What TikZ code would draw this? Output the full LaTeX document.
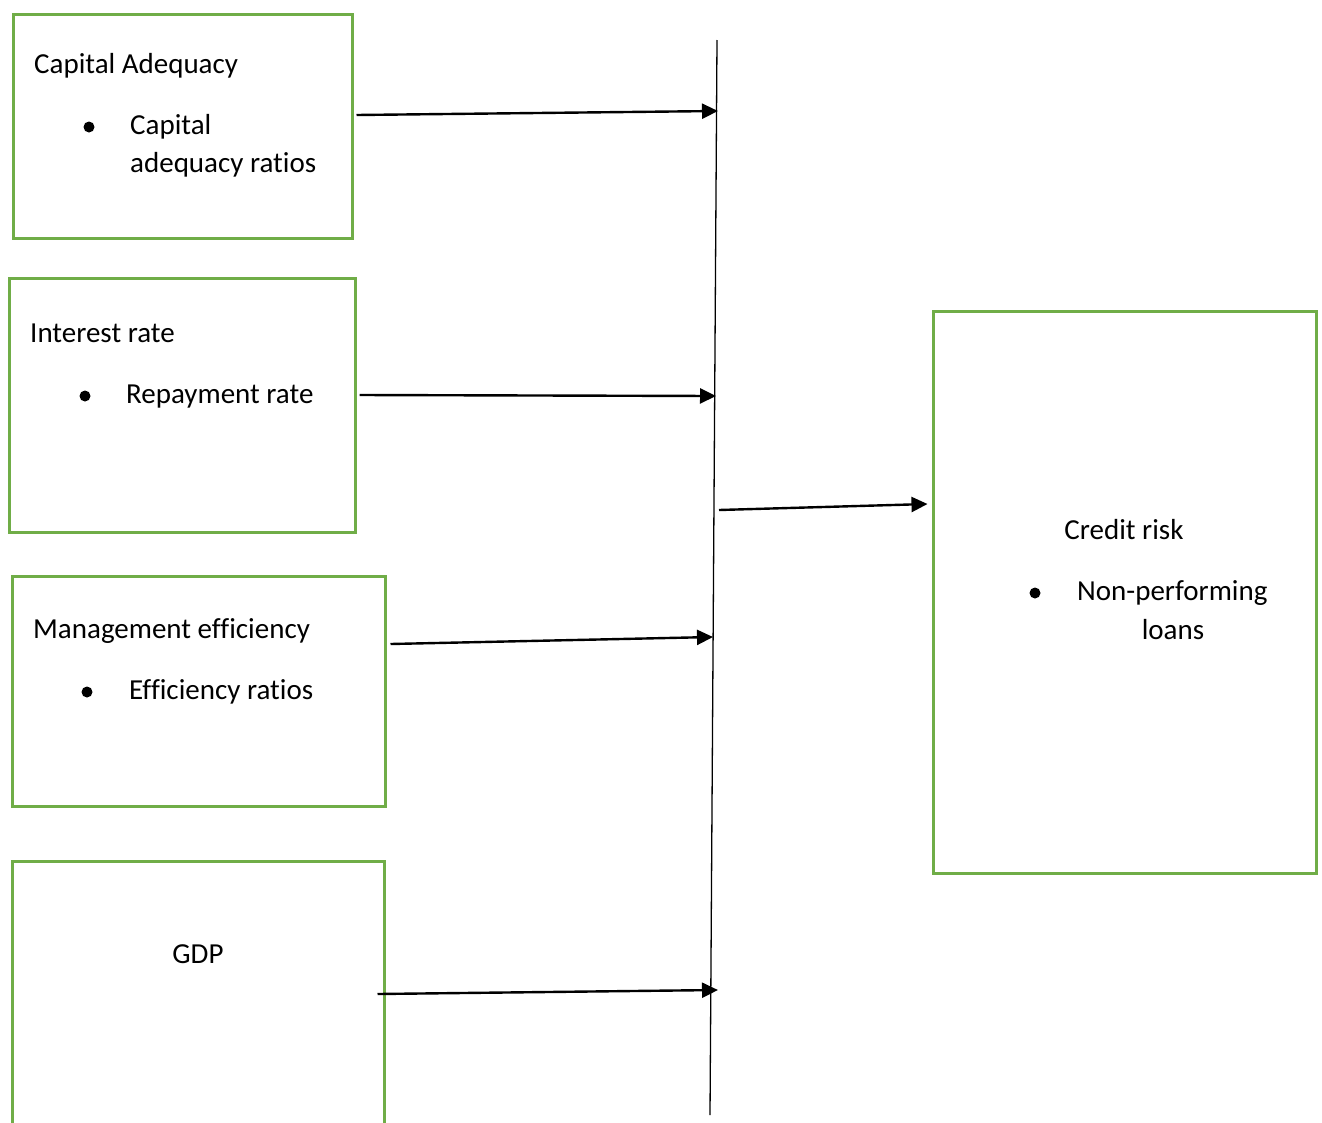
\documentclass[tikz,border=0pt]{standalone}
\usepackage{fontspec}
\setmainfont{Carlito}[RawFeature=-liga]
\usetikzlibrary{arrows.meta,positioning}

\begin{document}
\begin{tikzpicture}
[x=1pt, y=-1pt, line join=miter,
factor/.style={rectangle, draw=boxgreen, line width=3pt, inner sep=0pt},
label/.style={inner sep=0pt, anchor=base west, font=\fontsize{29}{34}\selectfont},
dot/.style={circle, fill=black, inner sep=0pt, minimum size=11pt},
arr/.style={line width=2.4pt, -{Triangle[length=16pt,width=15pt]}}]
\definecolor{boxgreen}{HTML}{70AD47}
\useasboundingbox (0,0) rectangle (1322,1122);

% boxes
\node[factor, minimum width=339pt, minimum height=224pt] (capital) at (182.5,126) {};
\node[factor, minimum width=346pt, minimum height=254pt] (interest) at (182,405) {};
\node[factor, minimum width=373pt, minimum height=230pt] (management) at (198.5,691) {};
\node[factor, minimum width=372pt, minimum height=290pt] (gdp) at (198,1006) {};
\node[factor, minimum width=383pt, minimum height=562pt] (credit) at (1124.5,592) {};

% texts
\node[label] (capitaltitle) at (34,73) {Capital Adequacy};
\node[dot] (capitaldot) at (89,127) {};
\node[label] (capitalitem) at (130,134) {Capital};
\node[label] (capitalitemb) at (130,172) {adequacy ratios};

\node[label] (interesttitle) at (30,342) {Interest rate};
\node[dot] (interestdot) at (85,396) {};
\node[label] (interestitem) at (126,403) {Repayment rate};

\node[label] (managementtitle) at (33,638) {Management efficiency};
\node[dot] (managementdot) at (87,692) {};
\node[label] (managementitem) at (129,699) {Efficiency ratios};

\node[label, anchor=base] (gdptitle) at (198,963) {GDP};

\node[label, anchor=base] (credittitle) at (1124,539) {Credit risk};
\node[dot] (creditdot) at (1035,593) {};
\node[label] (credititem) at (1077,600) {Non-performing};
\node[label, anchor=base] (credititemb) at (1173,639) {loans};

% vertical line
\coordinate (linetop) at (717,40);
\coordinate (linebottom) at (710,1115);
\draw[line width=1.3pt] (linetop) -- (linebottom);

\coordinate (hit1) at (718,111);
\coordinate (hit2) at (716,396);
\coordinate (hit3) at (713,637);
\coordinate (hit4) at (718,990);
\coordinate (out) at (719,510);

% arrows
\draw[arr] ([shift={(3,-11)}]capital.east) -- (hit1);
\draw[arr] ([shift={(3,-10)}]interest.east) -- (hit2);
\draw[arr] ([shift={(4,-47)}]management.east) -- (hit3);
\draw[arr] ([shift={(-8,-12)}]gdp.east) -- (hit4);
\draw[arr] (out) -- ([shift={(-4,-88)}]credit.west);
\end{tikzpicture}
\end{document}
